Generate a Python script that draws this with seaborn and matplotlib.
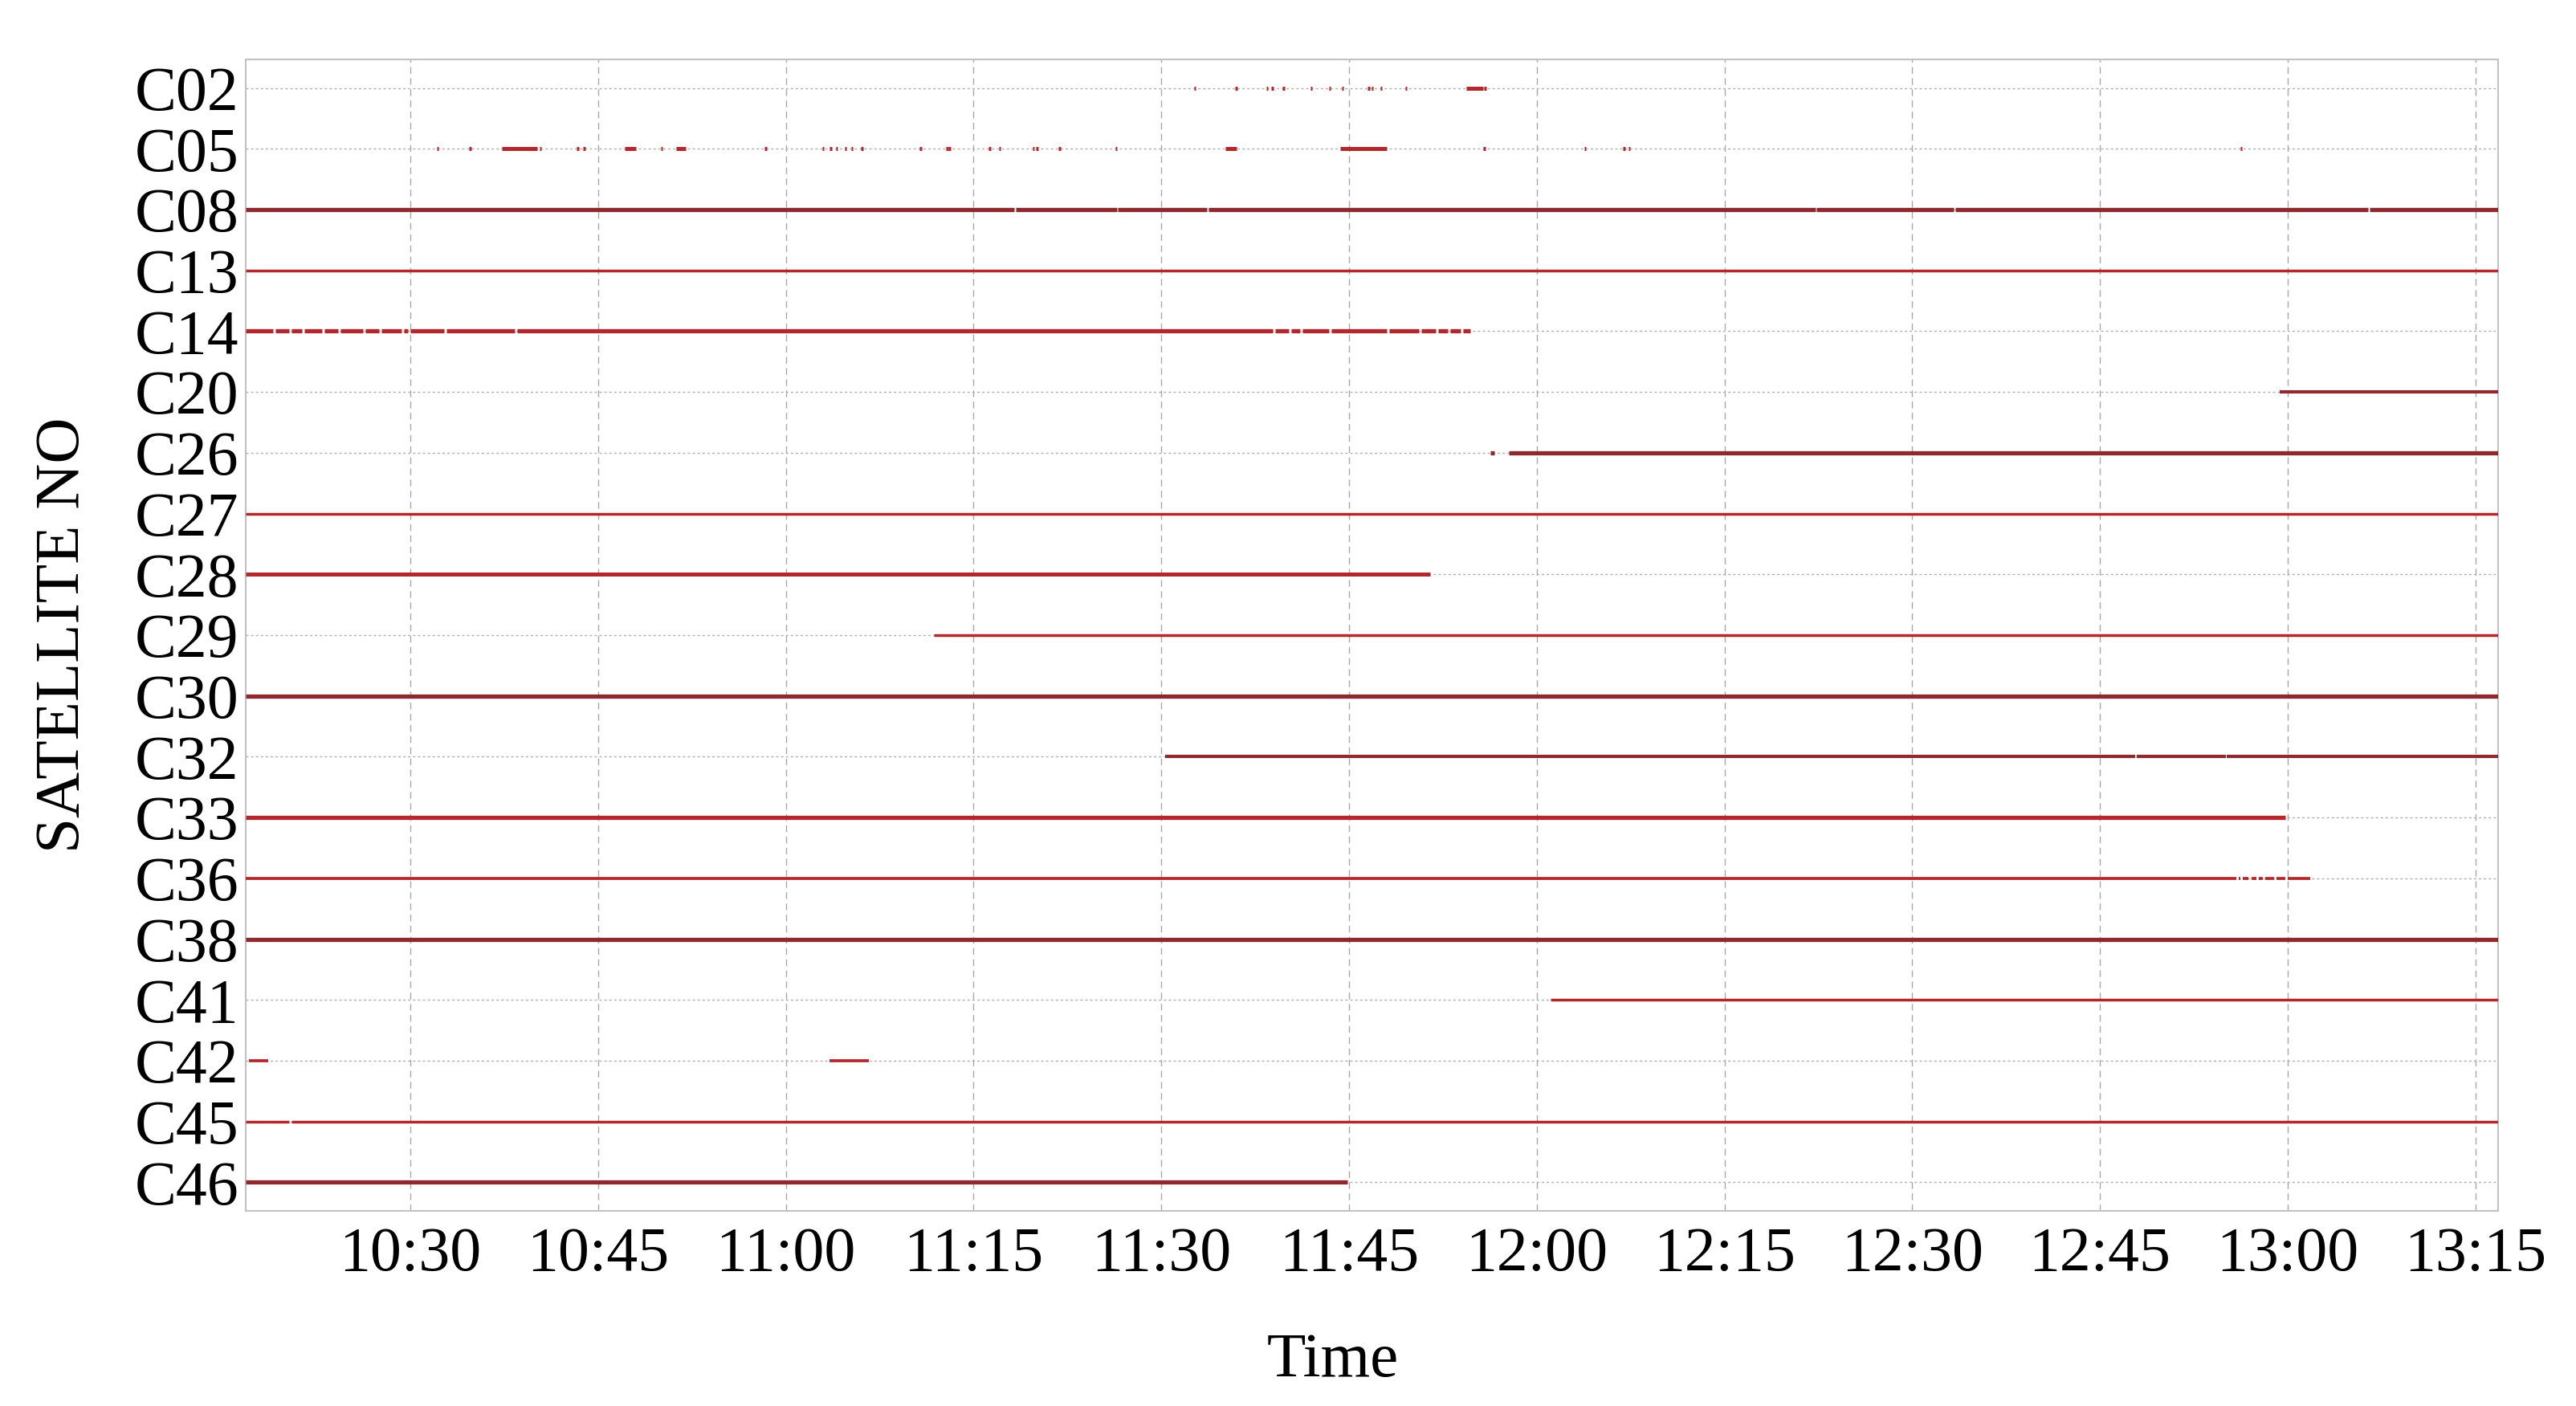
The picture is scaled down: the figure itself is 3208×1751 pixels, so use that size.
import matplotlib
matplotlib.use("Agg")
import matplotlib.pyplot as plt
import matplotlib.dates as mdates
import pandas as pd
import seaborn as sns

# ---------------- data ----------------
satellites = ["C02", "C05", "C08", "C13", "C14", "C20", "C26", "C27", "C28", "C29",
              "C30", "C32", "C33", "C36", "C38", "C41", "C42", "C45", "C46"]

T0 = "10:16:50"
T1 = "13:16:50"

c02_segments = [("11:32:36", "11:32:45"), ("11:35:54", "11:36:03"), ("11:38:24", "11:38:33"),
                ("11:38:48", "11:38:57"), ("11:39:42", "11:39:51"), ("11:41:54", "11:42:03"),
                ("11:43:24", "11:43:33"), ("11:44:24", "11:44:33"), ("11:46:30", "11:46:39"),
                ("11:46:48", "11:46:57"), ("11:47:30", "11:47:39"), ("11:49:30", "11:49:39"),
                ("11:54:24", "11:55:42"), ("11:55:48", "11:56:00")]
c05_segments = [("10:32:06", "10:32:15"), ("10:34:42", "10:34:51"), ("10:37:18", "10:40:06"),
                ("10:40:18", "10:40:27"), ("10:43:18", "10:43:27"), ("10:43:48", "10:43:57"),
                ("10:47:06", "10:48:00"), ("10:50:00", "10:50:09"), ("10:51:12", "10:52:00"),
                ("10:58:18", "10:58:27"), ("11:02:54", "11:03:03"), ("11:03:30", "11:03:39"),
                ("11:04:00", "11:04:09"), ("11:04:42", "11:04:51"), ("11:05:12", "11:05:21"),
                ("11:06:00", "11:06:09"), ("11:10:42", "11:10:51"), ("11:12:48", "11:12:57"),
                ("11:13:00", "11:13:09"), ("11:16:12", "11:16:21"), ("11:17:00", "11:17:09"),
                ("11:19:42", "11:19:51"), ("11:20:00", "11:20:09"), ("11:21:48", "11:21:57"),
                ("11:26:18", "11:26:27"), ("11:35:06", "11:36:00"), ("11:44:18", "11:48:00"),
                ("11:55:42", "11:55:54"), ("12:03:48", "12:03:57"), ("12:06:54", "12:07:03"),
                ("12:07:18", "12:07:27"), ("12:56:12", "12:56:21")]
c08_segments = [(T0, "11:18:15"), ("11:18:21", "11:26:27"), ("11:26:33", "11:33:39"),
                ("11:33:45", "12:22:15"), ("12:22:21", "12:33:21"), ("12:33:27", "13:06:27"),
                ("13:06:33", T1)]
c13_segments = [(T0, T1)]
c14_segments = [(T0, "10:19:00"), ("10:19:12", "10:20:18"), ("10:20:30", "10:21:18"),
                ("10:21:30", "10:22:54"), ("10:23:06", "10:24:12"), ("10:24:24", "10:26:12"),
                ("10:26:24", "10:27:30"), ("10:27:42", "10:29:18"), ("10:29:30", "10:29:48"),
                ("10:30:00", "10:32:42"), ("10:32:54", "10:38:18"), ("10:38:30", "11:38:54"),
                ("11:39:06", "11:40:12"), ("11:40:24", "11:41:06"), ("11:41:18", "11:43:24"),
                ("11:43:36", "11:48:00"), ("11:48:12", "11:50:36"), ("11:50:48", "11:51:54"),
                ("11:52:06", "11:52:54"), ("11:53:06", "11:53:54"), ("11:54:06", "11:54:42")]
c20_segments = [("12:59:24", T1)]
c26_segments = [("11:56:18", "11:56:36"), ("11:57:48", T1)]
c27_segments = [(T0, T1)]
c28_segments = [(T0, "11:51:30")]
c29_segments = [("11:11:48", T1)]
c30_segments = [(T0, T1)]
c32_segments = [("11:30:18", "12:47:51"), ("12:47:57", "12:55:03"), ("12:55:09", T1)]
c33_segments = [(T0, "12:59:48")]
c36_segments = [(T0, "12:55:54"), ("12:56:06", "12:56:12"), ("12:56:24", "12:56:54"),
                ("12:57:06", "12:57:30"), ("12:57:42", "12:58:00"), ("12:58:12", "12:58:54"),
                ("12:59:06", "12:59:48"), ("13:00:00", "13:01:48")]
c38_segments = [(T0, T1)]
c41_segments = [("12:01:06", T1)]
c42_segments = [("10:17:06", "10:18:36"), ("11:03:30", "11:06:36")]
c45_segments = [(T0, "10:20:18"), ("10:20:30", T1)]
c46_segments = [(T0, "11:44:54")]

segments = {
    "C02": c02_segments, "C05": c05_segments, "C08": c08_segments, "C13": c13_segments,
    "C14": c14_segments, "C20": c20_segments, "C26": c26_segments, "C27": c27_segments,
    "C28": c28_segments, "C29": c29_segments, "C30": c30_segments, "C32": c32_segments,
    "C33": c33_segments, "C36": c36_segments, "C38": c38_segments, "C41": c41_segments,
    "C42": c42_segments, "C45": c45_segments, "C46": c46_segments,
}

x_tick_labels = ["10:30", "10:45", "11:00", "11:15", "11:30", "11:45", "12:00",
                 "12:15", "12:30", "12:45", "13:00", "13:15"]

# ---------------- styles ----------------
DARK = "#8E2A2E"
RED = "#B2282C"
style_of = {
    "C02": (RED, 3.6), "C05": (RED, 3.6), "C08": (DARK, 3.8), "C13": (RED, 2.5),
    "C14": (RED, 3.8), "C20": (DARK, 3.0), "C26": (DARK, 3.8), "C27": (RED, 2.5),
    "C28": (RED, 3.6), "C29": (RED, 2.5), "C30": (DARK, 3.8), "C32": (DARK, 3.0),
    "C33": (RED, 3.8), "C36": (RED, 2.7), "C38": (DARK, 3.8), "C41": (RED, 2.5),
    "C42": (RED, 2.7), "C45": (RED, 2.5), "C46": (DARK, 3.8),
}

DAY = "2000-01-01 "
rows = []
seg_id = 0
for i, sat in enumerate(satellites):
    for (a, b) in segments[sat]:
        for t in (a, b):
            rows.append({"sat": sat, "row": i, "seg": seg_id,
                         "time": pd.Timestamp(DAY + t)})
        seg_id += 1
df = pd.DataFrame(rows)

# ---------------- figure ----------------
sns.set_theme(style="white")
plt.rcParams["font.family"] = ["Liberation Serif", "DejaVu Serif"]

fig = plt.figure(figsize=(32.08, 17.51), dpi=100)
ax = fig.add_axes([0.0954, 0.1388, 0.8744, 0.8189])

palette = {s: style_of[s][0] for s in satellites}
sizes = {s: style_of[s][1] for s in satellites}

sns.lineplot(data=df, x="time", y="row", hue="sat", size="sat", units="seg",
             estimator=None, sort=False, palette=palette, sizes=sizes,
             hue_order=satellites, size_order=satellites,
             legend=False, ax=ax, solid_capstyle="butt", zorder=3)

ax.set_xlim(pd.Timestamp(DAY + T0), pd.Timestamp(DAY + T1))
ax.set_ylim(len(satellites) - 1 + 0.47, -0.47)

ax.set_xticks([mdates.date2num(pd.Timestamp(DAY + t + ":00")) for t in x_tick_labels])
ax.set_xticklabels(x_tick_labels)
ax.set_yticks(range(len(satellites)))
ax.set_yticklabels(satellites)

ax.tick_params(axis="both", which="both", length=0, labelsize=56, colors="black")
ax.tick_params(axis="x", pad=14)
ax.tick_params(axis="y", pad=6)

ax.set_axisbelow(True)
ax.grid(False)
ax.xaxis.grid(True, color="#A8A8A8", linewidth=1.0, linestyle=(0, (6, 4)))
ax.yaxis.grid(True, color="#B0B0B0", linewidth=1.0, linestyle=(0, (2.2, 2.2)))

for sp in ax.spines.values():
    sp.set_visible(True)
    sp.set_color("#C2C2C2")
    sp.set_linewidth(1.5)

ax.set_xlabel("Time", fontsize=57, color="black")
ax.set_ylabel("SATELLITE NO", fontsize=57, color="black")
ax.xaxis.set_label_coords(0.4827, -0.106)
ax.yaxis.set_label_coords(-0.068, 0.5)

fig.savefig("out.png", dpi=100, facecolor="white")
